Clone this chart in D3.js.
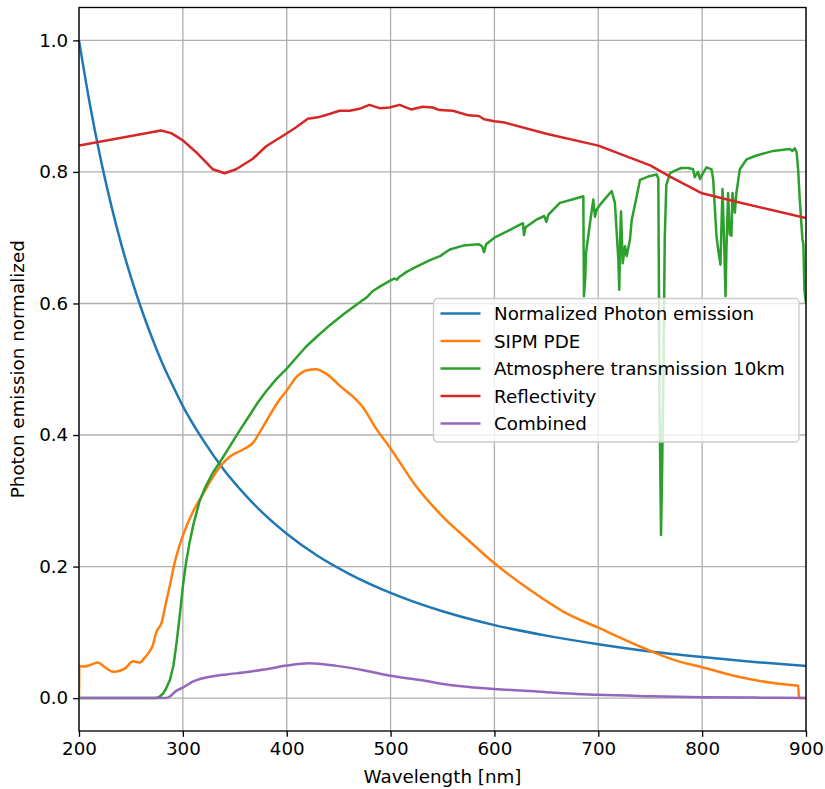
<!DOCTYPE html>
<html>
<head>
<meta charset="utf-8">
<script src="https://cdn.jsdelivr.net/npm/d3@7"></script>
<style>
  body { margin: 0; background: #fff; }
  text { font-family: "DejaVu Sans", sans-serif; }
</style>
</head>
<body>
<svg></svg>
<script>
// series: [wavelength nm, value]
const emission = [[200,1],[210,0.907],[220,0.826],[230,0.756],[240,0.694],[250,0.64],[260,0.592],[270,0.549],[280,0.51],[290,0.476],[300,0.444],[320,0.391],[340,0.346],[360,0.309],[380,0.277],[400,0.25],[430,0.216],[460,0.189],[500,0.16],[550,0.132],[600,0.111],[650,0.095],[700,0.082],[750,0.071],[800,0.0625],[850,0.055],[900,0.049]];

const pde = [[200,0],[200.3,0.049],[205,0.048],[210,0.050],[218,0.054],[225,0.047],[233,0.040],[240,0.042],[245,0.046],[252,0.056],[258.7,0.054],[263.5,0.062],[268,0.071],[271,0.08],[274.3,0.0997],[279.6,0.115],[284,0.147],[288,0.175],[292,0.205],[296,0.228],[300,0.247],[309.6,0.283],[319.3,0.31],[328.9,0.336],[337,0.354],[345,0.367],[357.9,0.378],[367.5,0.388],[374,0.404],[383.6,0.43],[393.2,0.454],[399.7,0.467],[409.3,0.488],[418.9,0.498],[428,0.5],[438.3,0.493],[451,0.475],[473,0.443],[486.5,0.409],[499.8,0.38],[524.6,0.322],[550.2,0.276],[575,0.24],[600,0.205],[633.7,0.165],[665.8,0.132],[700,0.107],[752.9,0.070],[775,0.057],[800,0.047],[836,0.032],[868,0.023],[885,0.020],[892.5,0.019],[893.3,0],[900,0]];

const atmosphere = [[200,0],[274,0],[277.5,0.002],[281,0.007],[284,0.015],[287.6,0.028],[291,0.05],[294,0.085],[297,0.125],[300,0.17],[303,0.205],[306.4,0.236],[310,0.263],[316,0.299],[322,0.322],[329,0.343],[337,0.362],[348,0.39],[356,0.41],[364.3,0.43],[372,0.449],[380.4,0.467],[390,0.485],[400,0.501],[410,0.519],[419,0.535],[430,0.551],[441.5,0.567],[455,0.584],[467,0.598],[476.8,0.609],[483,0.619],[490,0.626],[500,0.635],[504,0.638],[506,0.636],[508,0.640],[515.4,0.648],[525,0.656],[538,0.666],[547.6,0.672],[557,0.682],[570,0.688],[585,0.690],[588,0.687],[590,0.678],[592,0.690],[600,0.700],[615,0.712],[626,0.721],[627.5,0.722],[628.5,0.704],[630,0.716],[640,0.727],[648,0.733],[650,0.724],[652,0.735],[663,0.753],[675,0.758],[685.6,0.763],[686.2,0.611],[687.5,0.64],[688.2,0.677],[692,0.722],[695.2,0.758],[696.8,0.732],[698.5,0.743],[703.2,0.753],[712.9,0.771],[716,0.753],[719.3,0.667],[720.2,0.621],[721.1,0.70],[721.9,0.74],[723.5,0.661],[725.7,0.687],[727.3,0.672],[730.5,0.697],[732.2,0.727],[737,0.763],[740.2,0.788],[748,0.793],[756.2,0.796],[757.8,0.79],[759,0.45],[760.4,0.248],[761.5,0.35],[762.8,0.5],[764,0.70],[765.5,0.78],[769,0.798],[775.5,0.803],[780,0.806],[786.7,0.806],[791.3,0.804],[792.9,0.792],[796,0.80],[798,0.789],[800,0.796],[804.2,0.807],[809,0.804],[810.6,0.789],[813.8,0.703],[815.4,0.682],[817.6,0.659],[819.6,0.774],[820.9,0.708],[822.5,0.611],[823.4,0.682],[825,0.768],[826.6,0.705],[828.2,0.703],[829.2,0.768],[831.5,0.738],[833,0.768],[836.3,0.804],[842.7,0.819],[852.3,0.825],[868.4,0.832],[884.4,0.835],[887,0.832],[889.2,0.836],[891,0.83],[892.4,0.804],[894,0.758],[896.6,0.697],[897.5,0.69],[898.5,0.62],[900,0.60]];

const reflectivity = [[200,0.84],[279,0.863],[288.8,0.859],[300,0.848],[312.8,0.830],[328.9,0.804],[340.1,0.798],[351.3,0.804],[367.4,0.820],[380.2,0.839],[399.5,0.858],[409.1,0.868],[420.3,0.881],[430,0.883],[441.2,0.888],[450.8,0.893],[460.5,0.893],[470.1,0.896],[479.7,0.902],[489.3,0.897],[499,0.898],[508.6,0.902],[519.8,0.895],[531,0.899],[540.7,0.898],[547.1,0.894],[560,0.893],[575,0.886],[585,0.885],[590,0.88],[600,0.877],[610,0.875],[650,0.858],[700,0.84],[750,0.81],[770,0.792],[799,0.768],[832,0.755],[900,0.73]];

const combined = [[200,0],[284,0],[288,0.003],[293.6,0.011],[300,0.016],[309.6,0.025],[316.5,0.029],[332,0.034],[342,0.036],[364,0.040],[380,0.044],[400,0.0495],[422,0.053],[448,0.049],[475,0.042],[500,0.034],[530,0.027],[557,0.02],[600,0.014],[650,0.009],[700,0.005],[750,0.003],[800,0.0015],[850,0.0008],[900,0]];

const labels = ["Normalized Photon emission", "SIPM PDE", "Atmosphere transmission 10km", "Reflectivity", "Combined"];
const colors = ["#1f77b4", "#ff7f0e", "#2ca02c", "#d62728", "#9467bd"];
const xTicks = [200, 300, 400, 500, 600, 700, 800, 900];
const yTicks = [0, 0.2, 0.4, 0.6, 0.8, 1.0];

const fontSize = "18.3px";

const margin = { top: 7.5, right: 19, bottom: 58, left: 79 },
      width = 825 - margin.left - margin.right,
      height = 789 - margin.top - margin.bottom;

const svg = d3.select("svg")
    .attr("width", 825)
    .attr("height", 789);

const g = svg.append("g")
    .attr("transform", `translate(${margin.left},${margin.top})`);

const x = d3.scaleLinear().domain([200, 900]).range([0, width]);
const y = d3.scaleLinear().domain([-0.05, 1.05]).range([height, 0]);

// grid
g.append("g").selectAll("line").data(xTicks).join("line")
    .attr("x1", d => x(d)).attr("x2", d => x(d))
    .attr("y1", 0).attr("y2", height)
    .attr("stroke", "#b0b0b0").attr("stroke-width", 1.33);
g.append("g").selectAll("line").data(yTicks).join("line")
    .attr("x1", 0).attr("x2", width)
    .attr("y1", d => y(d)).attr("y2", d => y(d))
    .attr("stroke", "#b0b0b0").attr("stroke-width", 1.33);

g.append("clipPath").attr("id", "clip")
  .append("rect").attr("width", width).attr("height", height);

// lines
const series = [emission, pde, atmosphere, reflectivity, combined];
const curves = [d3.curveMonotoneX, d3.curveMonotoneX, d3.curveLinear, d3.curveLinear, d3.curveMonotoneX];
const lines = g.append("g").attr("clip-path", "url(#clip)");
series.forEach((s, i) => {
    lines.append("path")
        .datum(s)
        .attr("fill", "none")
        .attr("stroke", colors[i])
        .attr("stroke-width", 2.5)
        .attr("stroke-linejoin", "round")
        .attr("d", d3.line().x(d => x(d[0])).y(d => y(d[1])).curve(curves[i]));
});

// axes
const xAxis = g.append("g")
    .attr("transform", `translate(0,${height})`)
    .call(d3.axisBottom(x).tickValues(xTicks).tickSize(5.8).tickPadding(5).tickFormat(d3.format("d")));
const yAxis = g.append("g")
    .call(d3.axisLeft(y).tickValues(yTicks).tickSize(5.8).tickPadding(5).tickFormat(d3.format(".1f")));
[xAxis, yAxis].forEach(a => {
    a.selectAll("text").style("font-size", fontSize).attr("fill", "#000");
    a.selectAll("line").attr("stroke", "#000").attr("stroke-width", 1.33);
    a.select(".domain").remove();
});

// frame
g.append("rect")
    .attr("width", width).attr("height", height)
    .attr("fill", "none").attr("stroke", "#000").attr("stroke-width", 1.33);

// axis labels
g.append("text")
    .attr("x", width / 2)
    .attr("y", height + 52)
    .attr("text-anchor", "middle")
    .style("font-size", fontSize)
    .text("Wavelength [nm]");

g.append("text")
    .attr("transform", "rotate(-90)")
    .attr("x", -height / 2)
    .attr("y", -55)
    .attr("text-anchor", "middle")
    .style("font-size", fontSize)
    .text("Photon emission normalized");

// legend
const legend = g.append("g")
    .attr("transform", `translate(${width - 372.5},${291})`);
legend.append("rect")
    .attr("width", 365.5).attr("height", 143.5)
    .attr("rx", 4)
    .attr("fill", "#fff").attr("fill-opacity", 0.8)
    .attr("stroke", "#cccccc").attr("stroke-width", 1.33);
labels.forEach((lab, i) => {
    const yy = 15 + i * 27.5;
    legend.append("line")
        .attr("x1", 7).attr("x2", 47)
        .attr("y1", yy).attr("y2", yy)
        .attr("stroke", colors[i]).attr("stroke-width", 2.5);
    legend.append("text")
        .attr("x", 60.5).attr("y", yy)
        .attr("dominant-baseline", "central")
        .style("font-size", fontSize)
        .text(lab);
});
</script>
</body>
</html>
